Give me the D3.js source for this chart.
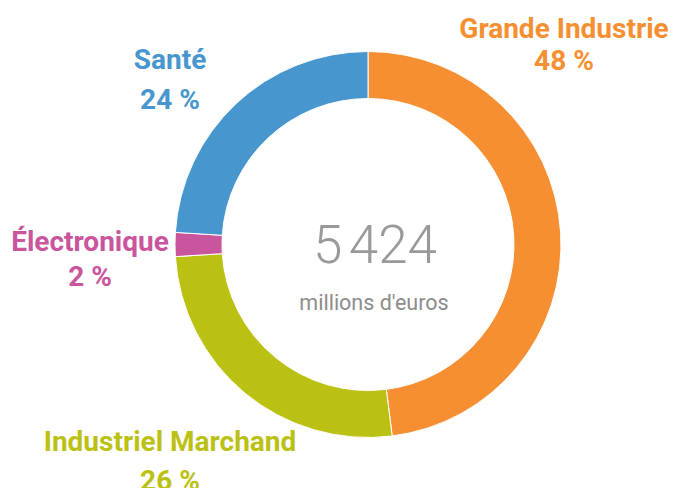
<!DOCTYPE html>
<html>
<head>
<meta charset="utf-8">
<script src="https://cdn.jsdelivr.net/npm/d3@7"></script>
<style>
  body { margin: 0; background: #fff; }
  svg { display: block; font-family: Roboto, "Noto Sans", sans-serif; }
</style>
</head>
<body>
<div id="chart"></div>
<script>
// secteurs, dans l'ordre horaire depuis midi
var sectors = ["Grande Industrie", "Industriel Marchand", "Électronique", "Santé"];
var shares = [48, 26, 2, 24];
var colors = ["#f58f31", "#bbc113", "#c9559d", "#4896ce"];
var total = "5\u202F424";
var unit = "millions d'euros";

var width = 684, height = 488;
var cx = 368, cy = 244.5;
var outerR = 193, innerR = 146;

// placement des étiquettes (centre du texte, ligne de base du nom, écart entre lignes)
var labelPos = {
  "Grande Industrie":    {x: 564, y: 38,  dy: 32},
  "Industriel Marchand": {x: 170, y: 451, dy: 39},
  "Électronique":        {x: 90,  y: 251, dy: 35},
  "Santé":               {x: 170, y: 69,  dy: 40}
};

var svg = d3.select("#chart")
  .append("svg")
    .attr("width", width)
    .attr("height", height);

var pie = d3.pie()
  .sort(null)
  .value(function(d) { return d; });

var arc = d3.arc()
  .innerRadius(innerR)
  .outerRadius(outerR);

var g = svg.append("g")
  .attr("transform", `translate(${cx},${cy})`);

g.selectAll("path")
  .data(pie(shares))
  .join("path")
    .attr("d", arc)
    .attr("fill", function(d, i) { return colors[i]; })
    .attr("stroke", "#fff")
    .attr("stroke-width", 1);

// total au centre
svg.append("text")
  .attr("x", 375)
  .attr("y", 263)
  .attr("text-anchor", "middle")
  .style("font-size", "53px")
  .style("font-weight", 300)
  .style("fill", "#999")
  .text(total);

svg.append("text")
  .attr("x", 374)
  .attr("y", 310)
  .attr("text-anchor", "middle")
  .style("font-size", "21.5px")
  .style("fill", "#8c8c8c")
  .text(unit);

// étiquettes
sectors.forEach(function(s, i) {
  var p = labelPos[s];
  var t = svg.append("text")
    .attr("text-anchor", "middle")
    .style("font-size", "28px")
    .style("font-weight", 700)
    .style("fill", colors[i]);
  t.append("tspan").attr("x", p.x).attr("y", p.y).text(s);
  t.append("tspan").attr("x", p.x).attr("y", p.y + p.dy).text(shares[i] + " %");
});
</script>
</body>
</html>
